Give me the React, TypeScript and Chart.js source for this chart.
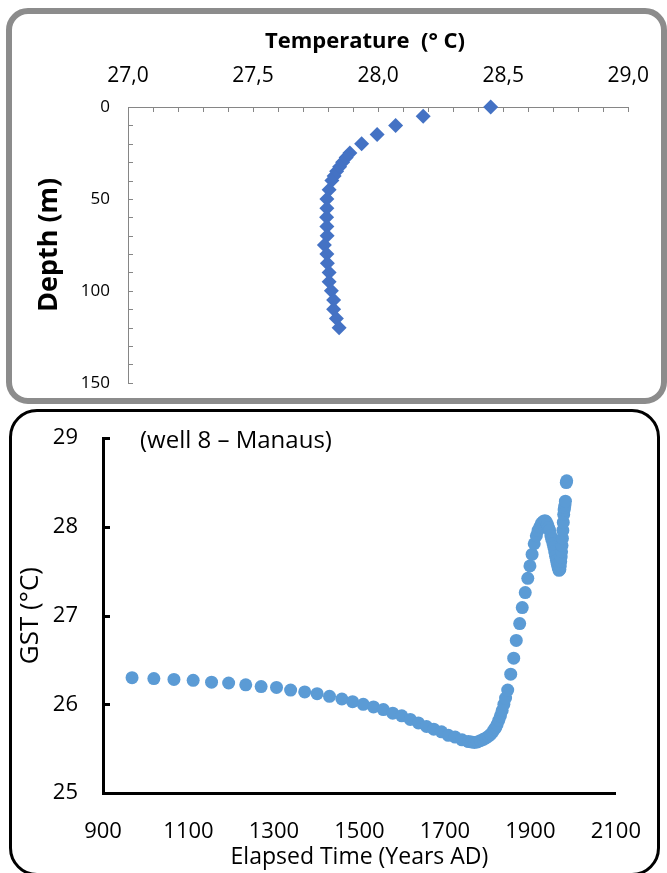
import React, { useEffect, useRef } from "react";
import { Chart, registerables } from "chart.js";

Chart.register(...registerables);

const FONT = "'Open Sans', 'Liberation Sans', sans-serif";

// ---- Top chart: temperature profile (well 8) ----
const profileDepth = [0, 5, 10, 15, 20, 25, 27.5, 30, 32.5, 35, 37.5, 40, 45, 50, 55, 60, 65, 70, 75, 80, 85, 90, 95, 100, 105, 110, 115, 120];
const profileTemp = [28.45, 28.18, 28.07, 27.996, 27.934, 27.887, 27.872, 27.858, 27.846, 27.834, 27.824, 27.815, 27.804, 27.795, 27.795, 27.794, 27.795, 27.796, 27.785, 27.795, 27.797, 27.804, 27.804, 27.813, 27.822, 27.822, 27.833, 27.844];
const tempTickLabels = ["27,0", "27,5", "28,0", "28,5", "29,0"];
const profileTitle = "Temperature  (\u00b0 C)";

// ---- Bottom chart: ground surface temperature history ----
const gstYear = [968, 1019, 1066, 1111, 1154, 1194, 1234, 1270, 1306, 1339, 1372, 1401, 1430, 1459, 1484, 1509, 1533, 1556, 1578, 1599, 1619, 1638, 1657, 1674, 1692, 1708, 1724, 1740, 1755, 1762, 1769, 1776, 1783, 1790, 1796, 1802, 1807, 1812, 1816, 1819, 1822, 1826, 1830, 1834, 1838, 1842, 1847, 1854, 1861, 1867, 1875, 1881, 1888, 1894, 1899, 1904, 1909, 1914, 1918, 1922, 1926, 1930, 1934, 1937, 1940, 1943, 1945, 1948, 1950, 1953, 1955, 1957, 1959, 1961, 1963, 1965, 1967, 1969, 1970, 1971, 1972, 1973, 1974, 1975, 1976, 1977, 1978, 1979, 1980, 1981, 1982, 1984, 1985];
const gstTemp = [26.3, 26.29, 26.28, 26.27, 26.25, 26.24, 26.22, 26.2, 26.19, 26.16, 26.14, 26.12, 26.09, 26.06, 26.03, 26.0, 25.97, 25.94, 25.9, 25.87, 25.83, 25.79, 25.75, 25.72, 25.69, 25.65, 25.63, 25.6, 25.58, 25.575, 25.57, 25.575, 25.59, 25.605, 25.62, 25.64, 25.66, 25.69, 25.72, 25.74, 25.77, 25.82, 25.87, 25.93, 26.0, 26.07, 26.16, 26.34, 26.52, 26.72, 26.91, 27.09, 27.26, 27.42, 27.56, 27.69, 27.81, 27.9, 27.96, 28.0, 28.04, 28.06, 28.07, 28.06, 28.03, 27.99, 27.96, 27.9, 27.86, 27.81, 27.77, 27.72, 27.67, 27.62, 27.58, 27.54, 27.51, 27.52, 27.56, 27.61, 27.66, 27.72, 27.79, 27.87, 27.96, 28.05, 28.14, 28.19, 28.22, 28.25, 28.29, 28.5, 28.52];
const gstAnnotation = "(well 8 \u2013 Manaus)";

// plugin: short tick marks drawn inward from the axes
const insideTicks = {
  id: "insideTicks",
  afterDraw(chart: any, _args: any, opts: any) {
    const ctx = chart.ctx;
    const ca = chart.chartArea;
    (opts.items || []).forEach((item: any) => {
      const scale = chart.scales[item.axis];
      ctx.save();
      ctx.strokeStyle = item.color;
      ctx.lineWidth = item.width;
      ctx.beginPath();
      const off = item.width % 2 === 1 ? 0.5 : 0;
      for (let v = item.from; v <= item.to + 1e-9; v += item.step) {
        const p = Math.round(scale.getPixelForValue(v)) + off;
        if (scale.isHorizontal()) {
          const y = item.edge === "top" ? ca.top : ca.bottom;
          const d = item.edge === "top" ? 1 : -1;
          ctx.moveTo(p, y);
          ctx.lineTo(p, y + d * item.length);
        } else {
          ctx.moveTo(ca.left, p);
          ctx.lineTo(ca.left + item.length, p);
        }
      }
      ctx.stroke();
      ctx.restore();
    });
  },
};

// plugin: free text placed relative to the chart area
const textLabel = {
  id: "textLabel",
  afterDraw(chart: any, _args: any, opts: any) {
    const ctx = chart.ctx;
    (opts.items || []).forEach((it: any) => {
      ctx.save();
      ctx.font = it.font;
      ctx.fillStyle = it.color;
      ctx.textBaseline = "middle";
      ctx.textAlign = it.align || "left";
      ctx.fillText(it.text, chart.chartArea.left + it.dx, chart.chartArea.top + it.dy);
      ctx.restore();
    });
  },
};

function ProfileChart() {
  const ref = useRef<HTMLCanvasElement>(null);
  useEffect(() => {
    const pts = profileDepth.map((d, i) => ({ x: profileTemp[i], y: d }));
    const chart = new Chart(ref.current as HTMLCanvasElement, {
      type: "scatter",
      data: {
        datasets: [
          {
            data: pts,
            pointStyle: "rectRot",
            pointRadius: 7.5,
            backgroundColor: "#4472c4",
            borderWidth: 0,
            clip: false,
          } as any,
        ],
      },
      plugins: [insideTicks, textLabel],
      options: {
        responsive: false,
        animation: false,
        layout: { padding: { left: 0, top: 0, right: 35, bottom: 10 } },
        plugins: {
          legend: { display: false },
          tooltip: { enabled: false },
          insideTicks: {
            items: [
              { axis: "x", edge: "top", from: 27, to: 29, step: 0.1, length: 5, color: "#868686", width: 1 },
              { axis: "y", from: 0, to: 150, step: 10, length: 5, color: "#868686", width: 1 },
            ],
          },
          textLabel: {
            items: [
              {
                text: profileTitle,
                font: `bold 22px ${FONT}`,
                color: "#000",
                align: "center",
                dx: 237,
                dy: -65,
              },
            ],
          },
        } as any,
        scales: {
          x: {
            type: "linear",
            position: "top",
            min: 27,
            max: 29,
            ticks: {
              stepSize: 0.5,
              color: "#000",
              padding: 18,
              font: { family: FONT, size: 21 },
              callback: (v: any) => tempTickLabels[Math.round((Number(v) - 27) * 2)] ?? "",
            },
            grid: { display: false, drawTicks: false },
            border: { display: true, color: "#868686", width: 1 },
            afterFit: (s: any) => {
              s.height = 107;
            },
          },
          y: {
            type: "linear",
            reverse: true,
            min: 0,
            max: 150,
            ticks: {
              stepSize: 50,
              color: "#000",
              padding: 18,
              font: { family: FONT, size: 17 },
            },
            grid: { display: false, drawTicks: false },
            border: { display: true, color: "#868686", width: 1 },
            title: {
              display: true,
              text: "Depth (m)",
              color: "#000",
              font: { family: FONT, size: 27, weight: "bold" },
              padding: { top: 33, bottom: 0 },
            },
            afterFit: (s: any) => {
              s.width = 128;
            },
          },
        } as any,
      },
    });
    return () => chart.destroy();
  }, []);
  return (
    <canvas
      ref={ref}
      width={667}
      height={411}
      style={{ position: "absolute", left: 0, top: 0, width: 667, height: 411 }}
    />
  );
}

function GstChart() {
  const ref = useRef<HTMLCanvasElement>(null);
  useEffect(() => {
    const pts = gstYear.map((y, i) => ({ x: y, y: gstTemp[i] }));
    const chart = new Chart(ref.current as HTMLCanvasElement, {
      type: "scatter",
      data: {
        datasets: [
          {
            data: pts,
            pointStyle: "circle",
            pointRadius: 6.5,
            backgroundColor: "#5b9bd5",
            borderWidth: 0,
            clip: false,
          } as any,
        ],
      },
      plugins: [insideTicks, textLabel],
      options: {
        responsive: false,
        animation: false,
        layout: { padding: { left: 0, top: 20, right: 50, bottom: 0 } },
        plugins: {
          legend: { display: false },
          tooltip: { enabled: false },
          insideTicks: {
            items: [{ axis: "y", from: 26, to: 29, step: 1, length: 7, color: "#000", width: 3 }],
          },
          textLabel: {
            items: [
              {
                text: gstAnnotation,
                font: `24px ${FONT}`,
                color: "#000",
                dx: 37,
                dy: 3,
              },
            ],
          },
        } as any,
        scales: {
          x: {
            type: "linear",
            min: 900,
            max: 2100,
            ticks: {
              stepSize: 200,
              color: "#000",
              padding: 26,
              font: { family: FONT, size: 22 },
              callback: (v: any) => String(v),
            },
            grid: { display: false, drawTicks: false },
            border: { display: true, color: "#000", width: 3 },
            title: {
              display: true,
              text: "Elapsed Time (Years AD)",
              color: "#000",
              font: { family: FONT, size: 23 },
              padding: { top: 0, bottom: 2 },
            },
            afterFit: (s: any) => {
              s.height = 80;
            },
          },
          y: {
            type: "linear",
            min: 25,
            max: 29,
            ticks: {
              stepSize: 1,
              color: "#000",
              padding: 25,
              font: { family: FONT, size: 22 },
            },
            grid: { display: false, drawTicks: false },
            border: { display: true, color: "#000", width: 3 },
            title: {
              display: true,
              text: "GST (\u00b0C)",
              color: "#000",
              font: { family: FONT, size: 26 },
              padding: { top: 15, bottom: 0 },
            },
            afterFit: (s: any) => {
              s.width = 103;
            },
          },
        } as any,
      },
    });
    return () => chart.destroy();
  }, []);
  return (
    <canvas
      ref={ref}
      width={667}
      height={473}
      style={{ position: "absolute", left: 0, top: 400, width: 667, height: 473 }}
    />
  );
}

export default function App() {
  return (
    <div
      style={{
        position: "absolute",
        left: 0,
        top: 0,
        width: 667,
        height: 873,
        overflow: "hidden",
        background: "#fff",
      }}
    >
      <div
        style={{
          position: "absolute",
          left: 6,
          top: 8,
          width: 661,
          height: 396,
          boxSizing: "border-box",
          border: "6px solid #8c8c8c",
          borderRadius: 22,
        }}
      />
      <div
        style={{
          position: "absolute",
          left: 9,
          top: 409,
          width: 651,
          height: 467,
          boxSizing: "border-box",
          border: "3px solid #000",
          borderRadius: 28,
        }}
      />
      <ProfileChart />
      <GstChart />
    </div>
  );
}
